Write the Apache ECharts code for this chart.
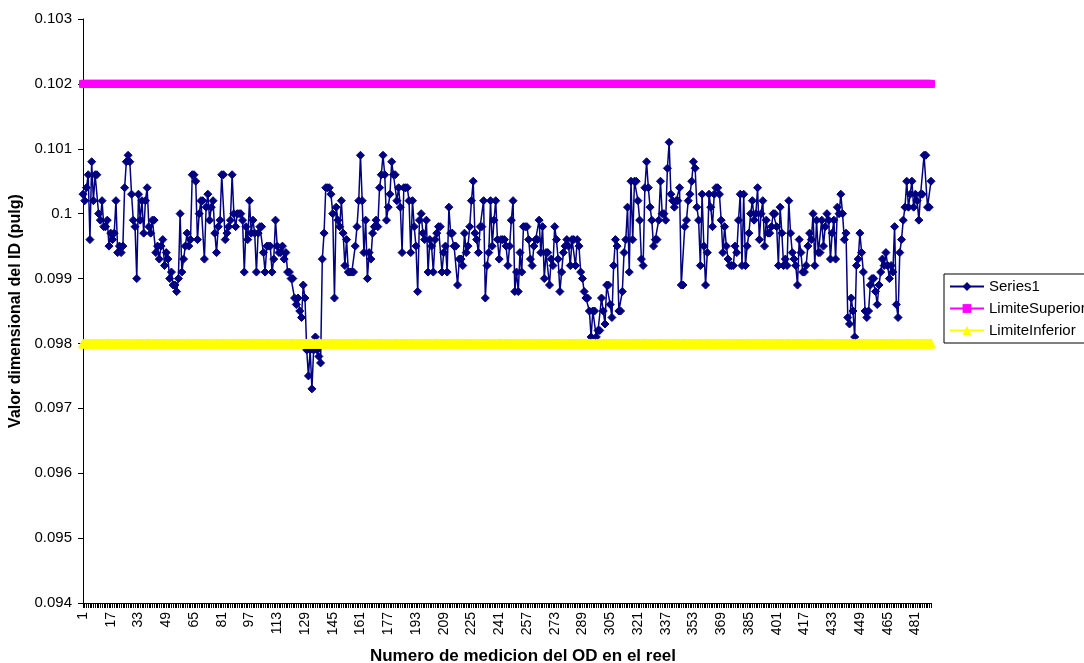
<!DOCTYPE html>
<html>
<head>
<meta charset="utf-8">
<script src="https://cdn.jsdelivr.net/npm/echarts@6/dist/echarts.min.js"></script>
<style>
html,body{margin:0;padding:0;background:#fff;}
#chart{width:1084px;height:663px;}
</style>
</head>
<body>
<div id="chart"></div>
<script>
// Series1 values (pulg)
const series1 = [
0.1003,0.1002,0.1004,0.1006,0.0996,0.1008,0.1002,0.1006,0.1006,0.1000,
0.0999,0.1002,0.0998,0.0998,0.0999,0.0995,0.0997,0.0996,0.0997,0.1002,
0.0994,0.0995,0.0994,0.0995,0.1004,0.1008,0.1009,0.1008,0.1003,0.0999,
0.0998,0.0990,0.1003,0.0999,0.1002,0.0997,0.1002,0.1004,0.0998,0.0997,
0.0999,0.0999,0.0994,0.0995,0.0993,0.0995,0.0996,0.0992,0.0994,0.0993,
0.0990,0.0991,0.0989,0.0989,0.0988,0.0990,0.1000,0.0991,0.0993,0.0995,
0.0997,0.0995,0.0996,0.1006,
0.1006,0.1005,0.0996,0.1000,0.1002,0.1002,0.0993,0.1001,0.1003,0.0999,
0.1001,0.1002,0.0997,0.0994,0.0998,0.0999,0.1006,0.1006,0.0996,0.0997,
0.0998,0.0999,0.1006,0.1000,0.0998,0.1000,0.1000,0.1000,0.0999,0.0991,
0.0998,0.0996,0.1002,0.0997,0.0999,0.0997,0.0991,0.0997,0.0998,0.0998,
0.0994,0.0991,0.0995,0.0995,0.0995,0.0991,0.0993,0.0999,0.0995,0.0994,
0.0994,0.0995,0.0993,0.0994,0.0991,0.0991,0.0990,0.0990,0.0987,0.0986,
0.0987,0.0985,0.0984,0.0989,0.0987,0.0979,0.0975,0.0979,0.0973,0.0979,
0.0981,0.0979,0.0978,0.0977,0.0993,0.0997,0.1004,0.1004,0.1004,0.1003,
0.1000,0.0987,0.1001,0.0999,0.0998,0.1002,0.0997,0.0992,0.0996,0.0991,
0.0991,0.0991,0.0991,0.0995,0.0998,0.1002,0.1009,0.1002,0.0994,0.0999,
0.0990,0.0994,0.0993,0.0997,0.0998,0.0999,0.0998,0.1004,0.1006,0.1009,
0.1006,0.0999,0.1001,0.1003,0.1008,0.1006,0.1006,0.1002,0.1004,0.1001,
0.0994,0.1004,0.1004,0.1004,0.1002,
0.0994,0.1002,0.0998,0.0995,0.0988,0.0999,0.1000,0.0997,0.0996,0.0999,
0.0991,0.0996,0.0995,0.0991,0.0996,0.0997,0.0998,0.0998,0.0991,0.0994,
0.0995,0.0991,0.1001,0.0997,0.0997,0.0995,0.0995,0.0989,0.0993,0.0993,
0.0992,0.0997,0.0994,0.0995,0.0998,0.1002,0.1005,0.0997,0.0996,0.0994,
0.0998,0.0998,0.1002,0.0987,0.0992,0.0994,0.1002,0.0995,0.0999,0.1002,
0.0996,0.0993,0.0996,0.0996,0.0996,0.0995,0.0992,0.0995,0.0999,0.1002,
0.0988,0.0991,0.0988,0.0994,0.0991,0.0998,
0.0998,0.0998,0.0996,0.0993,0.0992,0.0995,0.0996,0.0996,0.0999,0.0994,
0.0998,0.0990,0.0994,0.0994,0.0989,0.0993,0.0992,0.0998,0.0996,0.0993,
0.0988,0.0991,0.0994,0.0995,0.0996,0.0995,0.0992,0.0996,0.0996,0.0992,
0.0996,0.0995,0.0991,0.0990,0.0988,0.0987,0.0987,0.0985,0.0981,0.0985,
0.0985,0.0981,0.0982,0.0982,0.0987,0.0985,0.0983,0.0989,0.0989,0.0986,
0.0984,0.0992,0.0996,0.0995,0.0985,0.0985,0.0988,0.0994,0.0996,0.1001,
0.0991,0.1005,
0.0996,0.1005,0.1005,0.1002,0.0999,0.0993,0.0992,0.1004,0.1008,0.1004,
0.1001,0.0999,0.0995,0.0996,0.0996,0.0999,0.1005,0.1000,0.1000,0.0999,
0.1007,0.1011,0.1003,0.1002,0.1001,0.1002,0.1002,0.1004,0.0989,0.0989,
0.0998,0.0999,0.1002,0.1003,0.1005,0.1008,0.1007,0.1001,0.0999,0.0992,
0.1003,0.0995,0.0989,0.0994,0.1003,0.1001,0.0998,0.1003,0.1004,0.1004,
0.1003,0.0999,0.0994,0.0998,0.0995,0.0993,0.0992,0.0992,0.0992,0.0995,
0.0994,0.0999,0.1003,0.0992,
0.1003,0.0992,0.0995,0.0997,0.1000,0.1002,0.0999,0.1000,0.1004,0.0996,
0.1000,0.1002,0.0995,0.0999,0.0997,0.0997,0.0998,0.1000,0.1000,0.0998,
0.0992,0.1001,0.0997,0.0992,0.0993,0.0992,0.1002,0.0997,0.0994,0.0993,
0.0992,0.0989,0.0996,0.0994,0.0991,0.0991,0.0992,0.0995,0.0997,0.0996,
0.1000,0.0992,0.0999,0.0994,0.0994,0.0999,0.0995,0.0998,0.1000,0.0999,
0.0993,0.0997,0.0999,0.0993,0.1001,0.1000,0.1003,0.1000,0.0996,0.0997,
0.0984,0.0983,0.0987,0.0985,0.0981,0.0992,
0.0993,0.0997,0.0994,0.0991,0.0985,0.0984,0.0985,0.0989,0.0990,0.0990,
0.0988,0.0986,0.0989,0.0991,0.0993,0.0992,0.0994,0.0992,0.0990,0.0992,
0.0991,0.0998,0.0986,0.0984,0.0994,0.0996,0.0999,0.1001,0.1005,0.1001,
0.1003,0.1005,0.1001,0.1003,0.1002,0.0999,0.1003,0.1003,0.1009,0.1009,
0.1001,0.1001,0.1005
];
const limiteSuperiorValue = 0.102;
const limiteInferiorValue = 0.098;
const seriesNames = ['Series1', 'LimiteSuperior', 'LimiteInferior'];
const yMin = 0.094, yMax = 0.103, yStep = 0.001;
const xLabelEvery = 16;

const categories = series1.map((_, i) => String(i + 1));
const limiteSuperior = series1.map(() => limiteSuperiorValue);
const limiteInferior = series1.map(() => limiteInferiorValue);

const FONT = "'Liberation Sans', Arial, sans-serif";
const chart = echarts.init(document.getElementById('chart'), null, {renderer: 'canvas'});
chart.setOption({
  animation: false,
  backgroundColor: '#ffffff',
  textStyle: {fontFamily: FONT},
  grid: {left: 83, right: 153, top: 19, bottom: 60, containLabel: false, outerBoundsMode: 'none'},
  legend: {
    orient: 'vertical',
    left: 944, top: 274,
    padding: [5, 5, 5, 5],
    itemWidth: 34, itemHeight: 11, itemGap: 7,
    backgroundColor: '#ffffff',
    borderColor: '#000000', borderWidth: 1, borderRadius: 0,
    textStyle: {fontFamily: FONT, fontSize: 15, color: '#000'},
    data: seriesNames
  },
  xAxis: {
    type: 'category',
    data: categories,
    boundaryGap: false,
    name: 'Numero de medicion del OD en el reel',
    nameLocation: 'middle',
    nameGap: 45,
    nameTextStyle: {fontFamily: FONT, fontSize: 17, fontWeight: 'bold', color: '#000', padding: [0, 0, 0, 32]},
    axisLine: {lineStyle: {color: '#000', width: 1}},
    axisTick: {show: true, interval: 0, length: 5, lineStyle: {color: '#000'}},
    axisLabel: {interval: xLabelEvery - 1, rotate: 90, margin: 9, fontSize: 14, color: '#000', fontFamily: FONT},
    splitLine: {show: false}
  },
  yAxis: {
    type: 'value',
    min: yMin, max: yMax, interval: yStep,
    name: 'Valor dimensional del ID (pulg)',
    nameLocation: 'middle',
    nameGap: 51,
    nameRotate: 90,
    nameTextStyle: {fontFamily: FONT, fontSize: 16, fontWeight: 'bold', color: '#000'},
    axisLine: {show: true, lineStyle: {color: '#000', width: 1}},
    axisTick: {show: true, length: 5, lineStyle: {color: '#000'}},
    axisLabel: {margin: 11, fontSize: 15, color: '#000', fontFamily: FONT,
      formatter: v => String(parseFloat(v.toFixed(3)))},
    splitLine: {show: false}
  },
  series: [
    {
      name: seriesNames[0], type: 'line', data: series1,
      symbol: 'diamond', symbolSize: 8, showAllSymbol: true,
      lineStyle: {color: '#000080', width: 1.5},
      itemStyle: {color: '#000080', borderColor: '#000080'}
    },
    {
      name: seriesNames[1], type: 'line', data: limiteSuperior,
      symbol: 'rect', symbolSize: 7, showAllSymbol: true,
      lineStyle: {color: '#FF00FF', width: 1.5},
      itemStyle: {color: '#FF00FF', borderColor: '#FF00FF'}
    },
    {
      name: seriesNames[2], type: 'line', data: limiteInferior,
      symbol: 'triangle', symbolSize: 9, showAllSymbol: true,
      lineStyle: {color: '#FFFF00', width: 1.5},
      itemStyle: {color: '#FFFF00', borderColor: '#FFFF00'}
    }
  ]
});
</script>
</body>
</html>
